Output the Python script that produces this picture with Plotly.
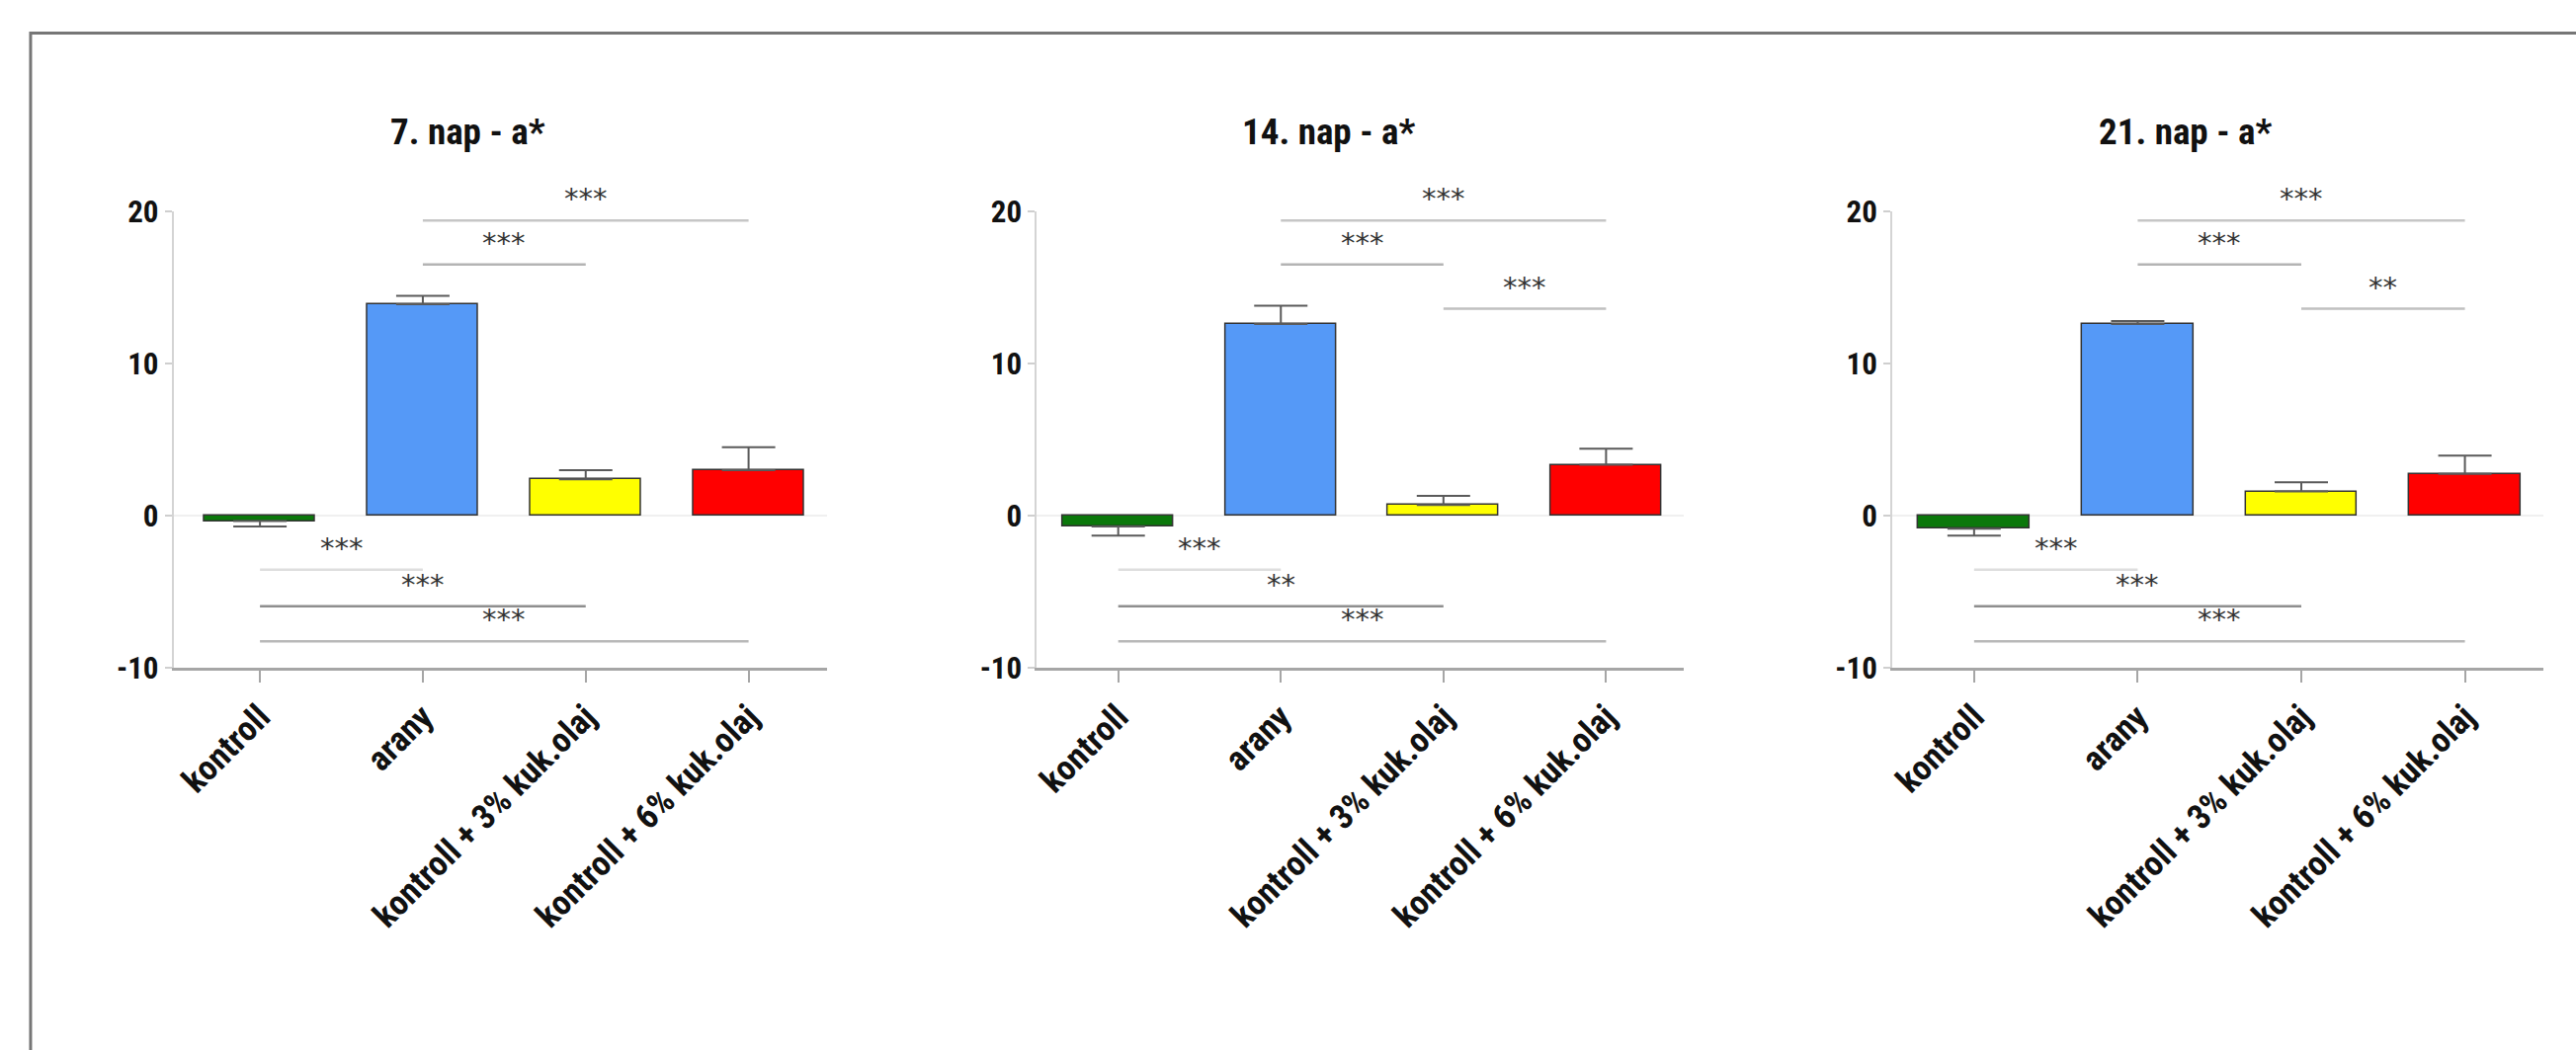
import plotly.graph_objects as go

# Groups shown on every panel
categories = ["kontroll", "arany", "kontroll + 3% kuk.olaj", "kontroll + 6% kuk.olaj"]
bar_colors = ["#0b780b", "#5599f7", "#ffff00", "#ff0000"]

# Panel titles (storage day)
days = ["7. nap - a*", "14. nap - a*", "21. nap - a*"]

# a* means and standard deviations per day
mean_7 = [-0.35, 13.9, 2.4, 3.0]
sd_7 = [0.35, 0.55, 0.6, 1.5]
mean_14 = [-0.7, 12.6, 0.7, 3.35]
sd_14 = [0.6, 1.2, 0.6, 1.05]
mean_21 = [-0.85, 12.6, 1.6, 2.75]
sd_21 = [0.45, 0.2, 0.6, 1.2]

# Pairwise comparisons: (group a, group b, significance)
sig_7 = [
    ("arany", "kontroll + 6% kuk.olaj", "***"),
    ("arany", "kontroll + 3% kuk.olaj", "***"),
    ("kontroll", "arany", "***"),
    ("kontroll", "kontroll + 3% kuk.olaj", "***"),
    ("kontroll", "kontroll + 6% kuk.olaj", "***"),
]
sig_14 = [
    ("arany", "kontroll + 6% kuk.olaj", "***"),
    ("arany", "kontroll + 3% kuk.olaj", "***"),
    ("kontroll + 3% kuk.olaj", "kontroll + 6% kuk.olaj", "***"),
    ("kontroll", "arany", "***"),
    ("kontroll", "kontroll + 3% kuk.olaj", "**"),
    ("kontroll", "kontroll + 6% kuk.olaj", "***"),
]
sig_21 = [
    ("arany", "kontroll + 6% kuk.olaj", "***"),
    ("arany", "kontroll + 3% kuk.olaj", "***"),
    ("kontroll + 3% kuk.olaj", "kontroll + 6% kuk.olaj", "**"),
    ("kontroll", "arany", "***"),
    ("kontroll", "kontroll + 3% kuk.olaj", "***"),
    ("kontroll", "kontroll + 6% kuk.olaj", "***"),
]

y_ticks = [-10, 0, 10, 20]
y_tick_labels = ["-10", "0", "10", "20"]

panels = [
    (days[0], mean_7, sd_7, sig_7),
    (days[1], mean_14, sd_14, sig_14),
    (days[2], mean_21, sd_21, sig_21),
]

# ---- layout constants ----
W, H = 2607, 1063
x_domains_px = [(172, 834), (1047, 1703), (1914, 2574)]
x_ranges = [[-0.53, 3.48], [-0.5, 3.48], [-0.5, 3.48]]
y_top_px, y_bot_px = 203, 682

# bracket height and shade for each comparison pair
bracket_level = {
    (1, 3): 19.4,
    (1, 2): 16.5,
    (2, 3): 13.6,
    (0, 1): -3.55,
    (0, 2): -5.95,
    (0, 3): -8.25,
}
bracket_shade = {
    (1, 3): "#c6c6c6",
    (1, 2): "#b4b4b4",
    (2, 3): "#c0c0c0",
    (0, 1): "#dedede",
    (0, 2): "#8e8e8e",
    (0, 3): "#b8b8b8",
}

FONT_NARROW = "Liberation Sans Narrow, Roboto Condensed, Liberation Sans, Arial, sans-serif"

fig = go.Figure()
idx = {c: i for i, c in enumerate(categories)}
positions = list(range(len(categories)))

for k, (title, means, sds, sigs) in enumerate(panels, start=1):
    xa = "x" if k == 1 else f"x{k}"
    ya = "y" if k == 1 else f"y{k}"
    up = [s if m >= 0 else 0 for m, s in zip(means, sds)]
    down = [s if m < 0 else 0 for m, s in zip(means, sds)]
    fig.add_trace(go.Bar(
        x=positions, y=means, xaxis=xa, yaxis=ya,
        width=0.68,
        marker=dict(color=bar_colors, line=dict(color="#333333", width=1.5)),
        error_y=dict(type="data", symmetric=False, array=up, arrayminus=down,
                     color="#5a5a5a", thickness=2, width=27),
        showlegend=False, hoverinfo="skip",
    ))

    for a, b, stars in sigs:
        i, j = sorted((idx[a], idx[b]))
        lvl = bracket_level[(i, j)]
        fig.add_shape(type="line", xref=xa, yref=ya, x0=i, x1=j, y0=lvl, y1=lvl,
                      line=dict(color=bracket_shade[(i, j)], width=2.5), layer="above")
        fig.add_annotation(xref=xa, yref=ya, x=(i + j) / 2, y=lvl, yshift=22,
                           text=stars, showarrow=False, yanchor="middle",
                           font=dict(family="DejaVu Sans", size=29, color="#333333"))

    fig.add_annotation(xref=f"{xa} domain", yref=f"{ya} domain", x=0.45, y=1.175,
                       text=title, showarrow=False, xanchor="center", yanchor="middle",
                       font=dict(family=FONT_NARROW, size=37, color="#111111", weight="bold"))

    x0, x1 = x_domains_px[k - 1]
    xaxis = dict(
        domain=[x0 / W, x1 / W], anchor=ya, range=x_ranges[k - 1],
        tickmode="array", tickvals=positions, ticktext=categories, tickangle=-45,
        showline=True, linecolor="#a6a6a6", linewidth=3,
        ticks="outside", ticklen=12, tickwidth=2, tickcolor="#a6a6a6",
        showgrid=False, zeroline=False, fixedrange=True,
        tickfont=dict(family=FONT_NARROW, size=35, color="#111111", weight="bold"),
    )
    yaxis = dict(
        domain=[1 - y_bot_px / H, 1 - y_top_px / H], anchor=xa, range=[-10, 20],
        tickmode="array", tickvals=y_ticks, ticktext=y_tick_labels,
        showline=True, linecolor="#d4d4d4", linewidth=2,
        ticks="outside", ticklen=7, tickwidth=2, tickcolor="#cfcfcf",
        showgrid=False, zeroline=True, zerolinecolor="#f0f0f0", zerolinewidth=1.5,
        fixedrange=True,
        tickfont=dict(family=FONT_NARROW, size=31, color="#111111", weight="bold"),
    )
    fig.update_layout({("xaxis" if k == 1 else f"xaxis{k}"): xaxis,
                       ("yaxis" if k == 1 else f"yaxis{k}"): yaxis})

# outer frame, open to the right and bottom
fig.add_shape(type="rect", xref="paper", yref="paper",
              x0=27 / W, x1=1.05, y0=-0.05, y1=1 - 16 / H,
              line=dict(color="#767676", width=3), fillcolor="rgba(0,0,0,0)")

fig.update_layout(
    width=W, height=H,
    margin=dict(l=0, r=0, t=0, b=0),
    paper_bgcolor="white", plot_bgcolor="white",
    bargap=0,
)

fig.write_html("out.html")
